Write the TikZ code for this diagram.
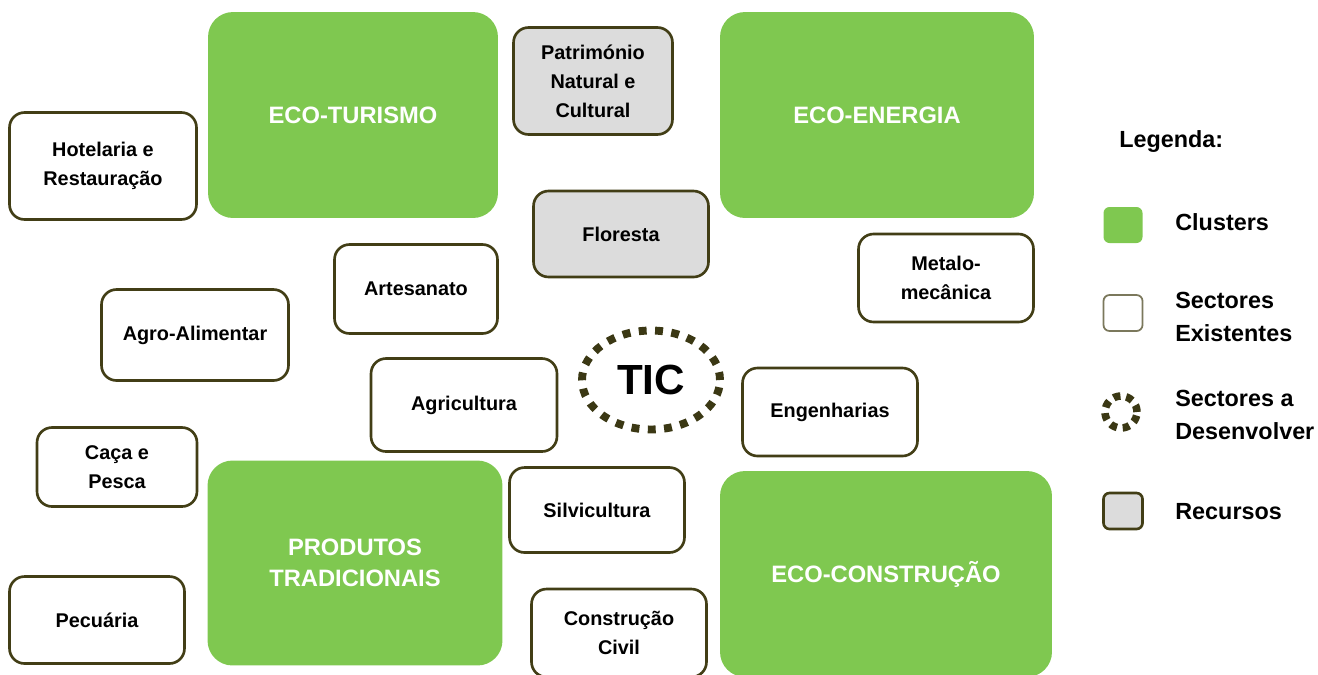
\documentclass[tikz,border=0pt]{standalone}
\usepackage{fontspec}
\setmainfont{Liberation Sans}
\usepackage{tikz}
\usetikzlibrary{positioning, shapes.geometric}
\definecolor{clustergreen}{RGB}{127,200,80}
\definecolor{olivedark}{RGB}{66,62,22}
\definecolor{recursogray}{RGB}{220,220,220}

\tikzset{
  cluster/.style={fill=clustergreen, draw=none, rounded corners=0.5cm, align=center,
    text=white, font=\fontsize{13.5}{18}\selectfont\bfseries, inner sep=0pt},
  sector/.style={draw=olivedark, line width=1.5pt, fill=white, rounded corners=0.3cm,
    align=center, font=\fontsize{11.3}{16.4}\selectfont\bfseries, inner sep=0pt},
  recurso/.style={sector, fill=recursogray},
  newsector/.style={ellipse, draw=olivedark!90!black, line width=4.5pt,
    dash pattern=on 4.5pt off 4.8pt, inner sep=0pt},
  legtext/.style={anchor=west, align=left, inner sep=0pt, font=\fontsize{13.3}{19}\selectfont\bfseries},
  legbox/.style={minimum width=0.78cm, minimum height=0.72cm, rounded corners=0.12cm, inner sep=0pt}
}

\begin{document}
\begin{tikzpicture}[x=0.02cm, y=-0.02cm]
\useasboundingbox (0,0) rectangle (1318,674);

% Clusters
\node (turismo) [cluster, minimum width=5.8cm, minimum height=4.12cm] at (353,115) {ECO-TURISMO};
\node (energia) [cluster, minimum width=6.28cm, minimum height=4.12cm] at (877,115) {ECO-ENERGIA};
\node (produtos) [cluster, minimum width=5.9cm, minimum height=4.1cm] at (355,563) {PRODUTOS\\TRADICIONAIS};
\node (construcao) [cluster, minimum width=6.64cm, minimum height=4.12cm] at (886,574) {ECO-CONSTRUÇÃO};

% Recursos
\node (patrimonio) [recurso, minimum width=3.18cm, minimum height=2.14cm] at (593,81) {Património\\Natural e\\Cultural};
\node (floresta) [recurso, minimum width=3.5cm, minimum height=1.72cm] at (621,234) {Floresta};

% Sectores existentes
\node (hotelaria) [sector, minimum width=3.74cm, minimum height=2.14cm] at (103,166) {Hotelaria e\\Restauração};
\node (metalo) [sector, minimum width=3.5cm, minimum height=1.76cm] at (946,278) {Metalo-\\mecânica};
\node (artesanato) [sector, minimum width=3.26cm, minimum height=1.78cm] at (416,289) {Artesanato};
\node (agroalim) [sector, minimum width=3.74cm, minimum height=1.82cm] at (195,335) {Agro-Alimentar};
\node (agricultura) [sector, minimum width=3.72cm, minimum height=1.86cm] at (464,405) {Agricultura};
\node (engenharias) [sector, minimum width=3.5cm, minimum height=1.76cm] at (830,412) {Engenharias};
\node (caca) [sector, minimum width=3.2cm, minimum height=1.58cm] at (117,467) {Caça e\\Pesca};
\node (silvicultura) [sector, minimum width=3.5cm, minimum height=1.7cm] at (597,510) {Silvicultura};
\node (pecuaria) [sector, minimum width=3.5cm, minimum height=1.74cm] at (97,620) {Pecuária};
\node (civil) [sector, minimum width=3.5cm, minimum height=1.76cm] at (619,633) {Construção\\Civil};

% Sector a desenvolver
\node (tic) [newsector, minimum width=2.76cm, minimum height=1.98cm,
  font=\fontsize{24}{26}\selectfont\bfseries] at (651,380) {TIC};

% Legenda
\node (legenda) [legtext] at (1119,142) {Legenda:};
\node (legcluster) [legbox, fill=clustergreen] at (1123,225) {};
\node [legtext] at (1175,222) {Clusters};
\node (legsector) [legbox, draw=olivedark!70, line width=1pt, fill=white] at (1123,313) {};
\node [legtext] at (1175,317) {Sectores\\Existentes};
\node (legnovo) [circle, draw=olivedark!90!black, line width=4.3pt, minimum size=0.64cm,
  dash pattern=on 4pt off 3.3pt, inner sep=0pt] at (1121,412) {};
\node [legtext] at (1175,415) {Sectores a\\Desenvolver};
\node (legrecurso) [legbox, draw=olivedark, line width=1.5pt, fill=recursogray] at (1123,511) {};
\node [legtext] at (1175,512) {Recursos};
\end{tikzpicture}
\end{document}
